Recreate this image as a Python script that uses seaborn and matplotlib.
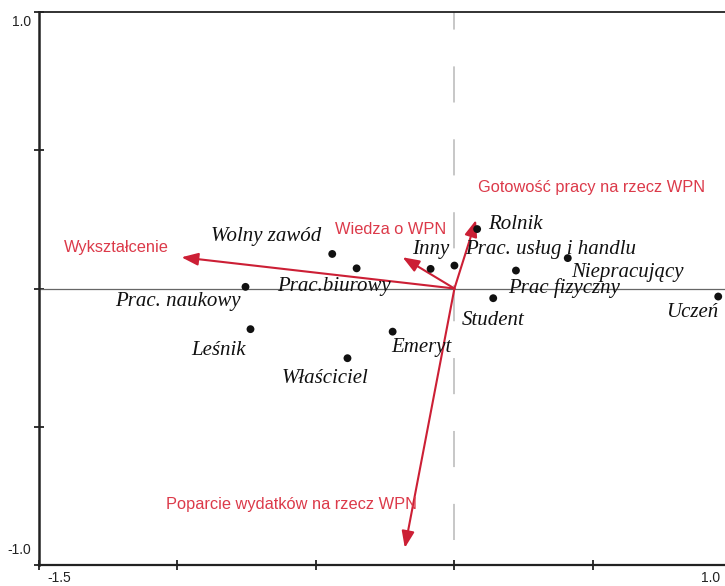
import matplotlib
matplotlib.use("Agg")
import matplotlib.pyplot as plt
import matplotlib.transforms as mtransforms
import pandas as pd
import seaborn as sns

# occupation scores (sites)
occupations = ["Wolny zawód", "Prac.biurowy", "Prac. naukowy", "Leśnik", "Emeryt",
               "Właściciel", "Inny", "Prac. usług i handlu", "Rolnik",
               "Niepracujący", "Prac fizyczny", "Student", "Uczeń"]
occ_x = [-0.441, -0.353, -0.754, -0.736, -0.223, -0.386, -0.086, 0.000, 0.082,
         0.409, 0.222, 0.140, 0.952]
occ_y = [0.125, 0.073, 0.006, -0.147, -0.156, -0.252, 0.071, 0.083, 0.215,
         0.110, 0.065, -0.035, -0.029]

# explanatory variables (arrows)
variables = ["Wykształcenie", "Wiedza o WPN", "Gotowość pracy na rzecz WPN",
             "Poparcie wydatków na rzecz WPN"]
var_x = [-0.985, -0.187, 0.078, -0.179]
var_y = [0.113, 0.113, 0.248, -0.938]

# label placement (pixel offsets from the point: right, down)
occ_offsets = {"Wolny zawód": (-66, -17), "Prac.biurowy": (-23, 18),
               "Prac. naukowy": (-68, 15), "Leśnik": (-32, 21),
               "Emeryt": (29, 16), "Właściciel": (-22, 20), "Inny": (0, -19),
               "Prac. usług i handlu": (96, -16), "Rolnik": (38, -5),
               "Niepracujący": (60, 14), "Prac fizyczny": (48, 18),
               "Student": (0, 22), "Uczeń": (-26, 16)}
var_label_pos = [(-1.220, 0.149), (-0.229, 0.212), (0.496, 0.366), (-0.587, -0.781)]

df = pd.DataFrame({"name": occupations, "x": occ_x, "y": occ_y})

sns.set_style("white")
plt.rcParams["font.family"] = ["Liberation Sans", "DejaVu Sans"]
plt.rcParams["lines.scale_dashes"] = False

arrow_col = "#cc1f35"
text_col = "#dc3a4a"
px = 0.72  # points per pixel at dpi 100

fig = plt.figure(figsize=(7.25, 5.86), dpi=100)
ax = fig.add_axes([0.0535, 0.0358, 0.9555, 0.9437])
ax.set_xlim(-1.5, 1.0)
ax.set_ylim(-1.0, 1.0)

# reference lines
ax.axhline(0, color="#666666", lw=0.9, zorder=1)
ax.axvline(0, color="#b8b8b8", lw=1.1, zorder=1,
           linestyle=(34.5, (26.0, 26.5)))

# arrows
for name, vx, vy, (lx, ly) in zip(variables, var_x, var_y, var_label_pos):
    ax.annotate("", xy=(vx, vy), xytext=(0, 0),
                arrowprops=dict(arrowstyle="-|>,head_length=1.0,head_width=0.38",
                                color=arrow_col, lw=1.5, shrinkA=0, shrinkB=0),
                zorder=3)
    ax.text(lx, ly, name, color=text_col, fontsize=11.8, ha="center", va="center")

# points
sns.scatterplot(data=df, x="x", y="y", ax=ax, color="#111111", s=32,
                edgecolor="none", zorder=4, legend=False)

for name, x, y in zip(occupations, occ_x, occ_y):
    dx, dy = occ_offsets[name]
    ax.annotate(name, xy=(x, y), xytext=(dx * px, -dy * px),
                textcoords="offset points", ha="center", va="center",
                fontsize=15, fontstyle="italic",
                family=["Liberation Serif", "DejaVu Serif"], color="#111111")

# axes frame
ax.set_xlabel("")
ax.set_ylabel("")
for side in ["left", "bottom", "top"]:
    ax.spines[side].set_visible(True)
    ax.spines[side].set_color("#222222")
ax.spines["left"].set_linewidth(1.8)
ax.spines["bottom"].set_linewidth(1.6)
ax.spines["top"].set_linewidth(1.3)
ax.spines["right"].set_visible(False)

ax.set_xticks([-1.5, -1.0, -0.5, 0.0, 0.5, 1.0])
ax.set_xticklabels(["-1.5", "", "", "", "", "1.0"])
ax.set_yticks([-1.0, -0.5, 0.0, 0.5, 1.0])
ax.set_yticklabels(["-1.0", "", "", "", "1.0"])
ax.tick_params(axis="both", direction="inout", length=7, width=1.3,
               color="#222222", labelsize=10, labelcolor="#222222",
               bottom=True, left=True)
ax.tick_params(axis="x", pad=1)
ax.tick_params(axis="y", pad=2)

xl = ax.get_xticklabels()
xl[0].set_ha("left")
xl[0].set_transform(xl[0].get_transform() +
                    mtransforms.ScaledTranslation(6 / 72, 0, fig.dpi_scale_trans))
xl[-1].set_ha("right")
xl[-1].set_transform(xl[-1].get_transform() +
                     mtransforms.ScaledTranslation(-8 / 72, 0, fig.dpi_scale_trans))
yl = ax.get_yticklabels()
yl[0].set_va("bottom")
yl[0].set_transform(yl[0].get_transform() +
                    mtransforms.ScaledTranslation(0, 6 / 72, fig.dpi_scale_trans))
yl[-1].set_va("top")
yl[-1].set_transform(yl[-1].get_transform() +
                     mtransforms.ScaledTranslation(0, -2 / 72, fig.dpi_scale_trans))

fig.savefig("out.png", dpi=100)
